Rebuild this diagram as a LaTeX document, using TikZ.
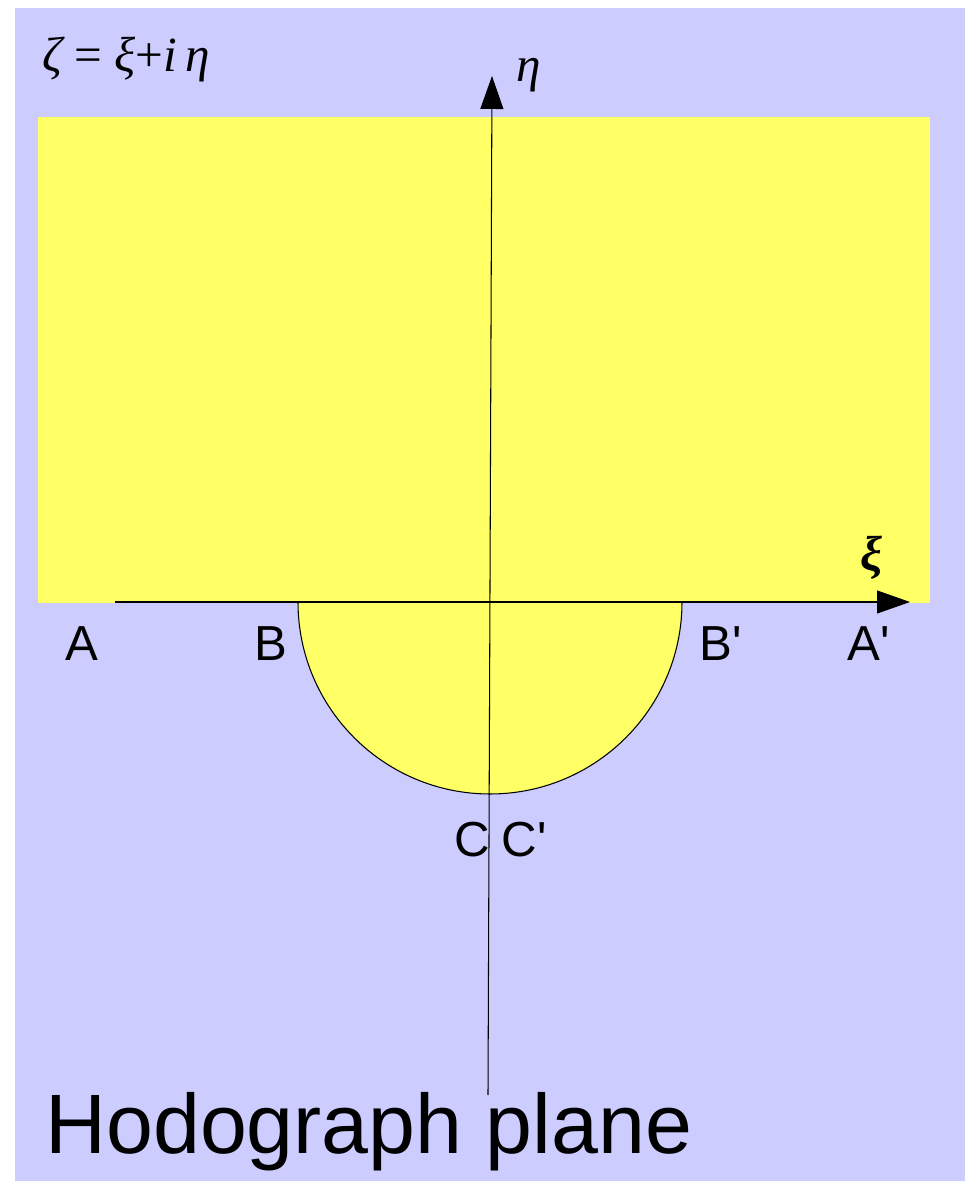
\documentclass[tikz,border=0pt]{standalone}
\usepackage{fontspec}
\setmainfont{Liberation Sans}
\newfontfamily\griega{Liberation Serif}
\usetikzlibrary{arrows.meta}

\definecolor{fondo}{HTML}{CCCCFF}
\definecolor{region}{HTML}{FFFF66}
\tikzset{
  eje/.style={line width=0.6pt, -{Triangle[length=0.66cm,width=0.46cm]}},
  punto/.style={font=\fontsize{28}{30}\selectfont, inner sep=0pt},
  simbolo/.style={font=\griega\itshape\fontsize{28}{30}\selectfont, inner sep=0pt},
}

\begin{document}
\begin{tikzpicture}[x=0.02cm,y=0.02cm]
	% Plano de fondo
	\useasboundingbox (0,0) rectangle (972,1181);
	\fill[fondo] (15,0) rectangle (965,1173);
	
	% Region (rectangulo y semicirculo)
	\fill[region] (38,578) rectangle (930,1064);
	\filldraw[fill=region, draw=black, line width=0.6pt] (298,579) arc[start angle=180, end angle=360, radius=192];
	
	% Ejes
	\coordinate (xiA) at (115,579);
	\coordinate (xiB) at (910,579);
	\coordinate (etaA) at (488,86);
	\coordinate (etaB) at (492,1105);
	\draw[eje] (xiA) -- (xiB);      % xi
	\draw[eje] (etaA) -- (etaB);    % eta
	
	% Nombres de los ejes
	\node[simbolo] (eta) at (529,1106) {η};
	\node[simbolo] (xi) at (872,623) {\bfseries ξ};
	\node[simbolo, anchor=base west] (zeta) at (42,1109) {ζ {\upshape =} ξ{\upshape +}i\,η};
	
	% Puntos de la frontera
	\node[punto] (A) at (82,537) {A};
	\node[punto] (B) at (271,537) {B};
	\node[punto] (Bp) at (721,537) {B\textquotesingle};
	\node[punto] (Ap) at (869,537) {A\textquotesingle};
	\node[punto] (C) at (472,341) {C};
	\node[punto] (Cp) at (524,341) {C\textquotesingle};
	
	% Titulo
	\node[anchor=base west, inner sep=0pt, font=\fontsize{48}{52}\selectfont] (titulo) at (45,28) {Hodograph plane};
\end{tikzpicture}
\end{document}
